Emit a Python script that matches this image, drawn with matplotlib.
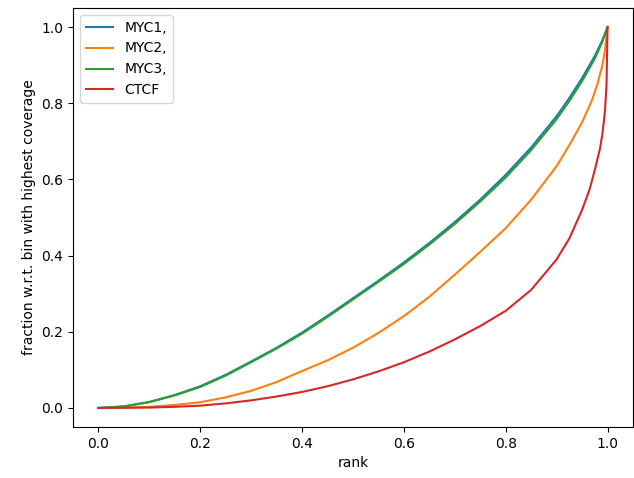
import matplotlib
matplotlib.use("Agg")
import matplotlib.pyplot as plt

labels = ["MYC1,", "MYC2,", "MYC3,", "CTCF"]

rank_myc1 = [0.0, 0.05, 0.1, 0.15, 0.2, 0.25, 0.3, 0.35, 0.4, 0.45, 0.5, 0.55, 0.6, 0.65, 0.7,
             0.75, 0.8, 0.85, 0.9, 0.925, 0.95, 0.975, 0.99, 1.0]
frac_myc1 = [0.0, 0.004, 0.016, 0.034, 0.057, 0.087, 0.122, 0.158, 0.198, 0.242, 0.288, 0.334, 0.382,
             0.433, 0.488, 0.547, 0.612, 0.684, 0.766, 0.814, 0.866, 0.924, 0.966, 1.0]

rank_myc2 = [0.0, 0.05, 0.1, 0.15, 0.2, 0.25, 0.3, 0.35, 0.4, 0.45, 0.5, 0.55, 0.6, 0.65, 0.7,
             0.75, 0.8, 0.85, 0.9, 0.925, 0.95, 0.97, 0.98, 0.99, 0.995, 1.0]
frac_myc2 = [0.0, 0.0005, 0.003, 0.008, 0.015, 0.028, 0.045, 0.068, 0.097, 0.125, 0.158, 0.197, 0.241,
             0.292, 0.35, 0.41, 0.472, 0.547, 0.635, 0.69, 0.75, 0.81, 0.85, 0.9, 0.94, 1.0]

rank_myc3 = [0.0, 0.05, 0.1, 0.15, 0.2, 0.25, 0.3, 0.35, 0.4, 0.45, 0.5, 0.55, 0.6, 0.65, 0.7,
             0.75, 0.8, 0.85, 0.9, 0.925, 0.95, 0.975, 0.99, 1.0]
frac_myc3 = [0.0, 0.004, 0.015, 0.033, 0.055, 0.085, 0.12, 0.156, 0.195, 0.239, 0.285, 0.331, 0.378,
             0.429, 0.483, 0.542, 0.605, 0.677, 0.758, 0.806, 0.858, 0.917, 0.962, 1.0]

rank_ctcf = [0.0, 0.1, 0.15, 0.2, 0.25, 0.3, 0.35, 0.4, 0.45, 0.5, 0.55, 0.6, 0.65, 0.7, 0.75, 0.8,
             0.85, 0.9, 0.925, 0.95, 0.965, 0.975, 0.985, 0.99, 0.995, 0.998, 1.0]
frac_ctcf = [0.0, 0.001, 0.003, 0.006, 0.012, 0.02, 0.03, 0.042, 0.057, 0.075, 0.096, 0.12, 0.148,
             0.18, 0.215, 0.255, 0.31, 0.39, 0.445, 0.52, 0.575, 0.625, 0.68, 0.72, 0.78, 0.85, 1.0]

fig = plt.figure(figsize=(6.34, 4.78), dpi=100)
ax = fig.add_axes([73 / 634, (478 - 427) / 478, 560 / 634, 419 / 478])

ax.plot(rank_myc1, frac_myc1, color="#1f77b4", label=labels[0])
ax.plot(rank_myc2, frac_myc2, color="#ff7f0e", label=labels[1])
ax.plot(rank_myc3, frac_myc3, color="#2ca02c", label=labels[2])
ax.plot(rank_ctcf, frac_ctcf, color="#d62728", label=labels[3])

ax.set_xlabel("rank")
ax.set_ylabel("fraction w.r.t. bin with highest coverage")
ax.set_xticks([0.0, 0.2, 0.4, 0.6, 0.8, 1.0])
ax.set_yticks([0.0, 0.2, 0.4, 0.6, 0.8, 1.0])
ax.legend(loc="upper left")

fig.savefig("out.png", dpi=100)
